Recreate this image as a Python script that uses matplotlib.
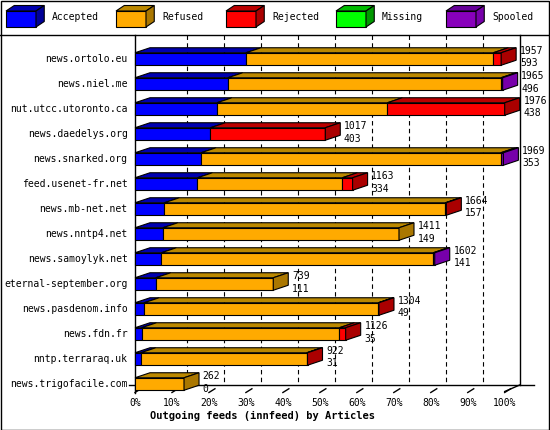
import numpy as np
import matplotlib.pyplot as plt
from matplotlib.patches import Polygon, Rectangle

hosts = ['news.ortolo.eu', 'news.niel.me', 'nut.utcc.utoronto.ca', 'news.daedelys.org',
         'news.snarked.org', 'feed.usenet-fr.net', 'news.mb-net.net', 'news.nntp4.net',
         'news.samoylyk.net', 'eternal-september.org', 'news.pasdenom.info', 'news.fdn.fr',
         'nntp.terraraq.uk', 'news.trigofacile.com']
accepted = [593, 496, 438, 403, 353, 334, 157, 149, 141, 111, 49, 35, 31, 0]
refused = [1322, 1460, 911, 0, 1602, 774, 1502, 1262, 1453, 628, 1251, 1057, 887, 262]
rejected = [42, 0, 627, 614, 0, 55, 5, 0, 0, 0, 4, 34, 4, 0]
missing = [0, 0, 0, 0, 0, 0, 0, 0, 0, 0, 0, 0, 0, 0]
spooled = [0, 9, 0, 0, 14, 0, 0, 0, 8, 0, 0, 0, 0, 0]
totals = [1957, 1965, 1976, 1017, 1969, 1163, 1664, 1411, 1602, 739, 1304, 1126, 922, 262]

series = ['Accepted', 'Refused', 'Rejected', 'Missing', 'Spooled']
front = ['#0000ff', '#ffaa00', '#ff0000', '#00ff00', '#8800bb']
top = ['#0000b0', '#bb8800', '#bb0000', '#00bb00', '#660099']
side = ['#000099', '#aa7700', '#aa0000', '#009900', '#7700aa']

W, H = 550, 430
fig = plt.figure(figsize=(W / 100, H / 100), dpi=100)
fig.patch.set_facecolor('white')
font = 'DejaVu Sans Mono'

# main axes: x in percent of max total, y in row index (px mapping chosen so 0%=135px, 100%=505px)
ppx = 3.697
ax = fig.add_axes([0, 0, 1, 1])
ax.set_xlim(-135 / ppx, (W - 135) / ppx)
ax.set_ylim((H - 59) / 25, -59 / 25)
ax.axis('off')
maxv = max(totals)
dx, dy = 15 / ppx, -5 / 25
bh = 0.5

def box(x0, x1, y, i, with_side):
    yt, yb = y - bh / 2, y + bh / 2
    ax.add_patch(Rectangle((x0, yt), x1 - x0, bh, fc=front[i], ec='black', lw=0.8, zorder=3))
    ax.add_patch(Polygon([(x0, yt), (x0 + dx, yt + dy), (x1 + dx, yt + dy), (x1, yt)],
                         fc=top[i], ec='black', lw=0.8, zorder=3))
    if with_side:
        ax.add_patch(Polygon([(x1, yt), (x1 + dx, yt + dy), (x1 + dx, yb + dy), (x1, yb)],
                             fc=side[i], ec='black', lw=0.8, zorder=3))

# grid (back plane) and frame
y_top, y_bot = -24 / 25, (385 - 59) / 25
for k in range(1, 10):
    ax.plot([k * 10 + dx] * 2, [y_top, y_bot], ls=(0, (4, 3)), color='black', lw=0.8, zorder=1)
ax.plot([0, 0], [y_top, y_bot + 0.3], color='black', lw=1)
ax.plot([100 + dx, 100 + dx], [y_top, y_bot], color='black', lw=1)
ax.plot([-1.5, 108], [y_bot, y_bot], color='black', lw=1)
ax.plot([100 + dx, 100], [y_bot, y_bot - dy * 1.3], color='black', lw=1)
for k in range(11):
    ax.plot([k * 10, k * 10 + dx * 0.4], [y_bot + 0.3, y_bot + 0.15], color='black', lw=1)
    ax.text(k * 10, (403 - 59) / 25, f'{k * 10}%', ha='center', va='center',
            fontsize=7, family=font)
ax.text(4, (416 - 59) / 25, 'Outgoing feeds (innfeed) by Articles', ha='left', va='center',
        fontsize=7.5, family=font, weight='bold')

data = [accepted, refused, rejected, missing, spooled]
for r, h in enumerate(hosts):
    segs = [(i, data[i][r]) for i in range(5) if data[i][r] > 0]
    x = 0.0
    for n, (i, v) in enumerate(segs):
        w = v / maxv * 100
        box(x, x + w, r, i, n == len(segs) - 1)
        x += w
    ax.text(-2, r, h, ha='right', va='center', fontsize=7, family=font)
    ax.text(x + dx + 1, r - 0.32, str(totals[r]), ha='left', va='center', fontsize=7, family=font)
    ax.text(x + dx + 1, r + 0.18, str(accepted[r]), ha='left', va='center', fontsize=7, family=font)

# legend across top
ax.plot([-135 / ppx, (W - 135) / ppx], [-24 / 25, -24 / 25], color='black', lw=1)
for i, s in enumerate(series):
    lx = (6 + 110 * i - 135) / ppx
    ly = (19 - 59) / 25
    lw_ = 30 / ppx
    yt, yb = ly - 0.32, ly + 0.32
    ax.add_patch(Rectangle((lx, yt), lw_, 0.64, fc=front[i], ec='black', lw=0.8))
    ax.add_patch(Polygon([(lx, yt), (lx + dx * 0.55, yt - 0.22), (lx + lw_ + dx * 0.55, yt - 0.22), (lx + lw_, yt)],
                         fc=top[i], ec='black', lw=0.8))
    ax.add_patch(Polygon([(lx + lw_, yt), (lx + lw_ + dx * 0.55, yt - 0.22), (lx + lw_ + dx * 0.55, yb - 0.22), (lx + lw_, yb)],
                         fc=side[i], ec='black', lw=0.8))
    ax.text(lx + lw_ + 16 / ppx, ly - 0.1, s, ha='left', va='center', fontsize=7, family=font)

fig.patches.append(Rectangle((0.001, 0.001), 0.997, 0.997, transform=fig.transFigure,
                             fill=False, ec='black', lw=1))
fig.savefig('out.png', dpi=100)
